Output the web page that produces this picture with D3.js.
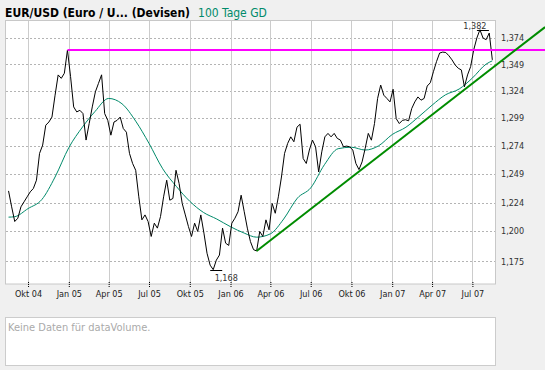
<!DOCTYPE html>
<html>
<head>
<meta charset="utf-8">
<style>
body { margin: 0; background: #f0f0f0; }
text { font-family: "DejaVu Sans Condensed", "DejaVu Sans", sans-serif; }
</style>
</head>
<body>
<svg id="chart"></svg>
<script src="https://cdnjs.cloudflare.com/ajax/libs/d3/7.8.5/d3.min.js"></script>
<script>
// weekly closes, first week starts here
var priceStart = '2004-08-18';
var priceValues = [
  1.2343, 1.2206, 1.2081, 1.2109, 1.2206, 1.2249, 1.2292, 1.2335, 1.2364, 1.2436,
  1.2672, 1.2746, 1.2925, 1.2954, 1.2999, 1.3200, 1.3389, 1.3357, 1.3405, 1.3625,
  1.3373, 1.3092, 1.3046, 1.3061, 1.3031, 1.2791, 1.2940, 1.3092, 1.3231, 1.3310,
  1.3390, 1.3031, 1.2969, 1.2835, 1.2954, 1.2969, 1.2999, 1.2895, 1.2862, 1.2672,
  1.2583, 1.2523, 1.2292, 1.2095, 1.2137, 1.2081, 1.1955, 1.2067, 1.2025, 1.2123,
  1.2292, 1.2436, 1.2263, 1.2278, 1.2523, 1.2407, 1.2235, 1.2137, 1.2039, 1.1955,
  1.2067, 1.1997, 1.2137, 1.1983, 1.1815, 1.1717, 1.1680, 1.1758, 1.1800, 1.2025,
  1.1899, 1.1880, 1.2067, 1.2109, 1.2164, 1.2306, 1.2164, 1.2025, 1.1912, 1.1845,
  1.1834, 1.1997, 1.1955, 1.2095, 1.2011, 1.2235, 1.2151, 1.2292, 1.2464, 1.2672,
  1.2761, 1.2820, 1.2776, 1.2907, 1.2934, 1.2627, 1.2583, 1.2702, 1.2791, 1.2731,
  1.2508, 1.2686, 1.2820, 1.2851, 1.2820, 1.2851, 1.2806, 1.2791, 1.2731, 1.2737,
  1.2731, 1.2702, 1.2583, 1.2529, 1.2597, 1.2717, 1.2851, 1.2790, 1.2940, 1.3170,
  1.3294, 1.3200, 1.3170, 1.3138, 1.3255, 1.2985, 1.2940, 1.2969, 1.2975, 1.2965,
  1.3077, 1.3138, 1.3184, 1.3154, 1.3170, 1.3285, 1.3316, 1.3419, 1.3515, 1.3596,
  1.3605, 1.3601, 1.3570, 1.3531, 1.3483, 1.3452, 1.3436, 1.3278, 1.3389, 1.3467,
  1.3627, 1.3740, 1.3820, 1.3740, 1.3724, 1.3788, 1.3531
];

// 100 Tage GD
var maDates = [
  '2004-08-18', '2004-09-01', '2004-10-01', '2004-11-01', '2004-12-01',
  '2005-01-01', '2005-02-01', '2005-03-01', '2005-04-01', '2005-05-01', '2005-06-01',
  '2005-07-01', '2005-08-01', '2005-09-01', '2005-10-01', '2005-11-01', '2005-12-01',
  '2006-01-01', '2006-02-01', '2006-03-01', '2006-04-01', '2006-05-01', '2006-06-01',
  '2006-07-01', '2006-08-01', '2006-09-01', '2006-10-01', '2006-11-01', '2006-12-01',
  '2007-01-01', '2007-02-01', '2007-03-01', '2007-04-01', '2007-05-01', '2007-06-01',
  '2007-07-01', '2007-08-01', '2007-08-15'
];
var maValues = [
  1.2118, 1.2122, 1.2191, 1.2268, 1.2464,
  1.2723, 1.2909, 1.3049, 1.3170, 1.3121, 1.2962,
  1.2762, 1.2536, 1.2381, 1.2254, 1.2158, 1.2102,
  1.2037, 1.1983, 1.1949, 1.1977, 1.2102, 1.2281,
  1.2369, 1.2572, 1.2714, 1.2727, 1.2702, 1.2739,
  1.2841, 1.2907, 1.2999, 1.3108, 1.3203, 1.3257,
  1.3360, 1.3491, 1.3522
];

var tickDates = ['2004-10-01', '2005-01-01', '2005-04-01', '2005-07-01', '2005-10-01', '2006-01-01',
                 '2006-04-01', '2006-07-01', '2006-10-01', '2007-01-01', '2007-04-01', '2007-07-01'];
var tickLabels = ['Okt 04', 'Jan 05', 'Apr 05', 'Jul 05', 'Okt 05', 'Jan 06',
                  'Apr 06', 'Jul 06', 'Okt 06', 'Jan 07', 'Apr 07', 'Jul 07'];
var yTicks = [1.175, 1.200, 1.224, 1.249, 1.274, 1.299, 1.324, 1.349, 1.374];

// drawn lines
var resistDates = ['2004-12-29', '2007-12-12'];
var resistValues = [1.3625, 1.3625];
var trendDates = ['2006-03-01', '2007-12-12'];
var trendValues = [1.1834, 1.3846];

var width = 545, height = 370;
var plotL = 5, plotR = 495, plotT = 21, plotB = 284;
var parse = d3.utcParse('%Y-%m-%d');
var fmt = function(v) { return d3.format('.3f')(v).replace('.', ','); };

var svg = d3.select('#chart')
  .attr('width', width)
  .attr('height', height);

var x = d3.scaleUtc()
  .domain([parse('2004-08-10'), parse('2007-08-21')])
  .range([plotL, plotR]);
var y = d3.scaleLog()
  .domain([1.1563, 1.3905])
  .range([plotB, plotT]);

var start = parse(priceStart);
var weeks = d3.utcWednesday.range(start, d3.utcDay.offset(start, 7 * priceValues.length));
var price = priceValues.map(function(v, i) { return { date: weeks[i], value: v }; });
var ma = maValues.map(function(v, i) { return { date: parse(maDates[i]), value: v }; });

// title
var title = svg.append('text')
  .attr('x', 5).attr('y', 17)
  .style('font-size', '12px');
title.append('tspan').attr('font-weight', 'bold').attr('fill', '#000')
  .text('EUR/USD (Euro / U... (Devisen)');
title.append('tspan').attr('fill', '#008a6a').attr('dx', 8)
  .text('100 Tage GD');

// plot area
svg.append('rect')
  .attr('x', plotL + 0.5).attr('y', plotT - 0.5)
  .attr('width', plotR - plotL).attr('height', plotB - plotT + 0.5)
  .attr('fill', '#fff').attr('stroke', '#c8c8c8');

svg.append('g').selectAll('line')
  .data(yTicks).enter().append('line')
  .attr('x1', plotL + 1).attr('x2', plotR)
  .attr('y1', function(d) { return Math.round(y(d)) + 0.5; })
  .attr('y2', function(d) { return Math.round(y(d)) + 0.5; })
  .attr('stroke', '#b4b4b4').attr('stroke-dasharray', '2,2');

svg.append('g').selectAll('line')
  .data(tickDates).enter().append('line')
  .attr('x1', function(d) { return Math.round(x(parse(d))) + 0.5; })
  .attr('x2', function(d) { return Math.round(x(parse(d))) + 0.5; })
  .attr('y1', plotT).attr('y2', plotB)
  .attr('stroke', '#cccccc');

// x axis
var xAxis = svg.append('g')
  .attr('transform', 'translate(0,' + (plotB - 2) + ')')
  .call(d3.axisBottom(x)
    .tickValues(tickDates.map(parse))
    .tickFormat(function(d, i) { return tickLabels[i]; })
    .tickSizeInner(5).tickSizeOuter(0).tickPadding(4));
xAxis.select('.domain').remove();
xAxis.selectAll('line').attr('stroke', '#000').attr('stroke-dasharray', '1,1');
xAxis.selectAll('text').attr('fill', '#222').style('font-size', '9px')
  .style('font-family', '"DejaVu Sans Condensed", "DejaVu Sans", sans-serif');

// y axis on the right
var yAxis = svg.append('g')
  .attr('transform', 'translate(' + plotR + ',0)')
  .call(d3.axisRight(y).tickValues(yTicks).tickFormat(fmt).tickSize(0).tickPadding(6));
yAxis.select('.domain').remove();
yAxis.selectAll('text').attr('fill', '#333').style('font-size', '9px')
  .style('font-family', '"DejaVu Sans Condensed", "DejaVu Sans", sans-serif');

var line = d3.line()
  .x(function(d) { return x(d.date); })
  .y(function(d) { return y(d.value); });

// moving average
svg.append('path')
  .datum(ma)
  .attr('fill', 'none')
  .attr('stroke', '#008a6a')
  .attr('stroke-width', 1)
  .attr('d', line.curve(d3.curveMonotoneX));

// price
svg.append('path')
  .datum(price)
  .attr('fill', 'none')
  .attr('stroke', '#000')
  .attr('stroke-width', 1)
  .attr('d', line.curve(d3.curveLinear));

// resistance and trend lines
var pairs = function(dates, values) {
  return values.map(function(v, i) { return { date: parse(dates[i]), value: v }; });
};
svg.append('path')
  .datum(pairs(resistDates, resistValues))
  .attr('fill', 'none').attr('stroke', '#ff00ff').attr('stroke-width', 2)
  .attr('d', line);
svg.append('path')
  .datum(pairs(trendDates, trendValues))
  .attr('fill', 'none').attr('stroke', '#008c00').attr('stroke-width', 2)
  .attr('d', line);

// max / min markers
var hi = price[d3.maxIndex(price, function(d) { return d.value; })];
var lo = price[d3.minIndex(price, function(d) { return d.value; })];
[[hi, -1], [lo, 1]].forEach(function(m) {
  var px = x(m[0].date), py = Math.round(y(m[0].value)) + 0.5;
  svg.append('line')
    .attr('x1', px - 3).attr('x2', px + 9)
    .attr('y1', py).attr('y2', py)
    .attr('stroke', '#000');
  svg.append('text')
    .attr('x', m[1] < 0 ? px - 5 : px + 13)
    .attr('y', m[1] < 0 ? py - 2 : py + 10)
    .attr('text-anchor', 'middle')
    .attr('fill', '#333')
    .style('font-size', '9px')
    .text(fmt(m[0].value));
});

// volume panel
svg.append('rect')
  .attr('x', plotL + 0.5).attr('y', 317.5)
  .attr('width', plotR - plotL).attr('height', 48)
  .attr('fill', '#fff').attr('stroke', '#cccccc');
svg.append('text')
  .attr('x', 8).attr('y', 331)
  .attr('fill', '#aaaaaa')
  .style('font-size', '11px')
  .text('Keine Daten für dataVolume.');
</script>
</body>
</html>
